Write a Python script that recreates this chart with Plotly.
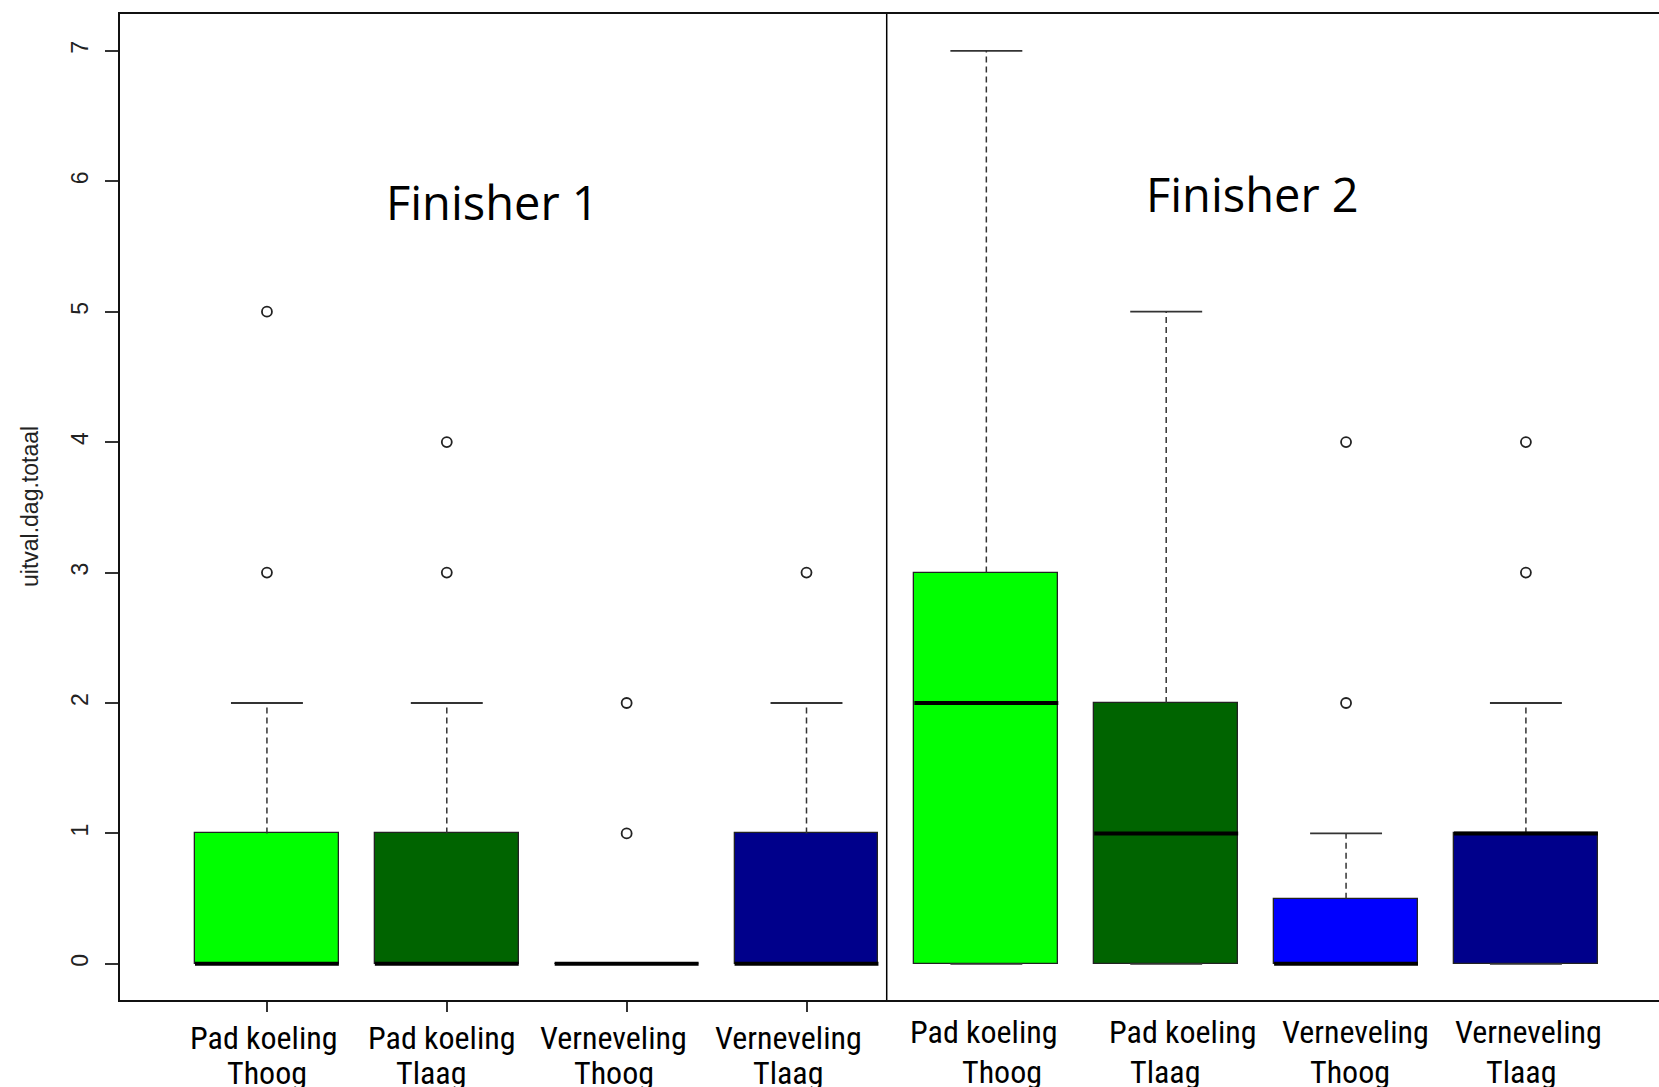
import plotly.graph_objects as go

# ---------------- data ----------------
groups = ["Finisher 1", "Finisher 2"]
line1_labels = ["Pad koeling", "Pad koeling", "Verneveling", "Verneveling",
                "Pad koeling", "Pad koeling", "Verneveling", "Verneveling"]
line2_labels = ["Thoog", "Tlaag", "Thoog", "Tlaag",
                "Thoog", "Tlaag", "Thoog", "Tlaag"]
q1_vals = [0, 0, 0, 0, 0, 0, 0, 0]
median_vals = [0, 0, 0, 0, 2, 1, 0, 1]
q3_vals = [1, 1, 0, 1, 3, 2, 0.5, 1]
lower_whisk = [0, 0, 0, 0, 0, 0, 0, 0]
upper_whisk = [2, 2, 0, 2, 7, 5, 1, 2]
outliers = [[3, 5], [3, 4], [1, 2], [3], [], [], [2, 4], [3, 4]]
box_colors = ["#00FF00", "#006400", "#0000FF", "#00008B",
              "#00FF00", "#006400", "#0000FF", "#00008B"]
y_ticks = [0, 1, 2, 3, 4, 5, 6, 7]

# ---------------- layout helpers ----------------
positions = list(range(len(q1_vals)))
BOX_W = 0.8
CAP_W = 0.4
label1_x = [-0.014, 0.973, 1.928, 2.898, 3.988, 5.094, 6.05, 7.017]
label2_x = [0.002, 0.913, 1.931, 2.895, 4.088, 4.994, 6.022, 6.97]
label1_y = [1038, 1038, 1038, 1038, 1032, 1032, 1032, 1032]
label2_y = [1073, 1073, 1073, 1073, 1072, 1072, 1072, 1072]
W, H = 1659, 1087
ML, MR, MT, MB = 120, 0, 14, 87
XR = [-0.817, 7.74]
YR = [-0.277, 7.282]

fig = go.Figure()

# box bodies
fig.add_trace(go.Bar(
    x=positions,
    y=[q3 - q1 for q1, q3 in zip(q1_vals, q3_vals)],
    base=q1_vals,
    width=BOX_W,
    marker=dict(color=box_colors, line=dict(color="#222222", width=1.3)),
    hoverinfo="skip",
    showlegend=False,
))

# dashed whiskers
wx, wy = [], []
for p, q1, q3, lo, hi in zip(positions, q1_vals, q3_vals, lower_whisk, upper_whisk):
    if hi > q3:
        wx += [p, p, None]
        wy += [q3, hi, None]
    if lo < q1:
        wx += [p, p, None]
        wy += [q1, lo, None]
fig.add_trace(go.Scatter(x=wx, y=wy, mode="lines",
                         line=dict(color="#333333", width=1.5, dash="6px,4px"),
                         hoverinfo="skip", showlegend=False))

# whisker caps
cx, cy = [], []
for p, lo, hi in zip(positions, lower_whisk, upper_whisk):
    for v in (lo, hi):
        cx += [p - CAP_W / 2, p + CAP_W / 2, None]
        cy += [v, v, None]
fig.add_trace(go.Scatter(x=cx, y=cy, mode="lines",
                         line=dict(color="#333333", width=1.8),
                         hoverinfo="skip", showlegend=False))

# medians
mx, my = [], []
for p, m in zip(positions, median_vals):
    mx += [p - BOX_W / 2, p + BOX_W / 2, None]
    my += [m, m, None]
fig.add_trace(go.Scatter(x=mx, y=my, mode="lines",
                         line=dict(color="#000000", width=4),
                         hoverinfo="skip", showlegend=False))

# outliers
ox, oy = [], []
for p, outs in zip(positions, outliers):
    for v in outs:
        ox.append(p)
        oy.append(v)
fig.add_trace(go.Scatter(x=ox, y=oy, mode="markers",
                         marker=dict(symbol="circle-open", size=10,
                                     color="#222222", line=dict(width=1.8)),
                         hoverinfo="skip", showlegend=False))

# divider between the two finishers
fig.add_shape(type="line", xref="x", yref="paper", x0=3.446, x1=3.446, y0=0, y1=1,
              line=dict(color="#000000", width=1.5))

# group titles
fig.add_annotation(x=1.253, y=5.84, xref="x", yref="y", text=groups[0], showarrow=False,
                   font=dict(family="Open Sans, Noto Sans, sans-serif", size=47, color="#000000"))
fig.add_annotation(x=5.481, y=5.90, xref="x", yref="y", text=groups[1], showarrow=False,
                   font=dict(family="Open Sans, Noto Sans, sans-serif", size=47, color="#000000"))

# category labels (two lines each)
label_font = dict(family="Liberation Sans Narrow, Arial Narrow, Roboto Condensed, DejaVu Sans Condensed, Liberation Sans",
                  size=32, color="#000000")
plot_h = H - MT - MB
for i in range(len(positions)):
    for txt, lx, ly in ((line1_labels[i], label1_x[i], label1_y[i]),
                        (line2_labels[i], label2_x[i], label2_y[i])):
        fig.add_annotation(x=lx, y=(H - MB - ly) / plot_h, xref="x", yref="paper",
                           text=txt, showarrow=False, font=label_font,
                           xanchor="center", yanchor="middle")

# y-axis title
fig.add_annotation(x=(30 - ML) / (W - ML - MR), y=0.5, xref="paper", yref="paper",
                   text="uitval.dag.totaal", textangle=-90, showarrow=False,
                   xanchor="center", yanchor="middle",
                   font=dict(family="Liberation Sans, Arial, sans-serif", size=23, color="#222222"))

fig.update_layout(
    width=W, height=H,
    margin=dict(l=ML, r=MR, t=MT, b=MB, pad=0),
    paper_bgcolor="white", plot_bgcolor="white",
    showlegend=False,
    bargap=0,
    xaxis=dict(range=XR, showgrid=False, zeroline=False,
               showline=True, linecolor="#111111", linewidth=1.5, mirror=True,
               tickmode="array", tickvals=positions[:4], ticks="outside",
               ticklen=10, tickwidth=1.5, tickcolor="#333333",
               showticklabels=False),
    yaxis=dict(range=YR, showgrid=False, zeroline=False,
               showline=True, linecolor="#111111", linewidth=1.5,
               tickmode="array", tickvals=y_ticks, ticks="outside",
               ticklen=13, tickwidth=1.5, tickcolor="#333333",
               tickangle=-90, ticklabelstandoff=8,
               tickfont=dict(family="Liberation Sans, Arial, sans-serif", size=23, color="#222222")),
)

fig.write_html("out.html", config={"displayModeBar": False},
               post_script="document.body.style.margin='0';")
